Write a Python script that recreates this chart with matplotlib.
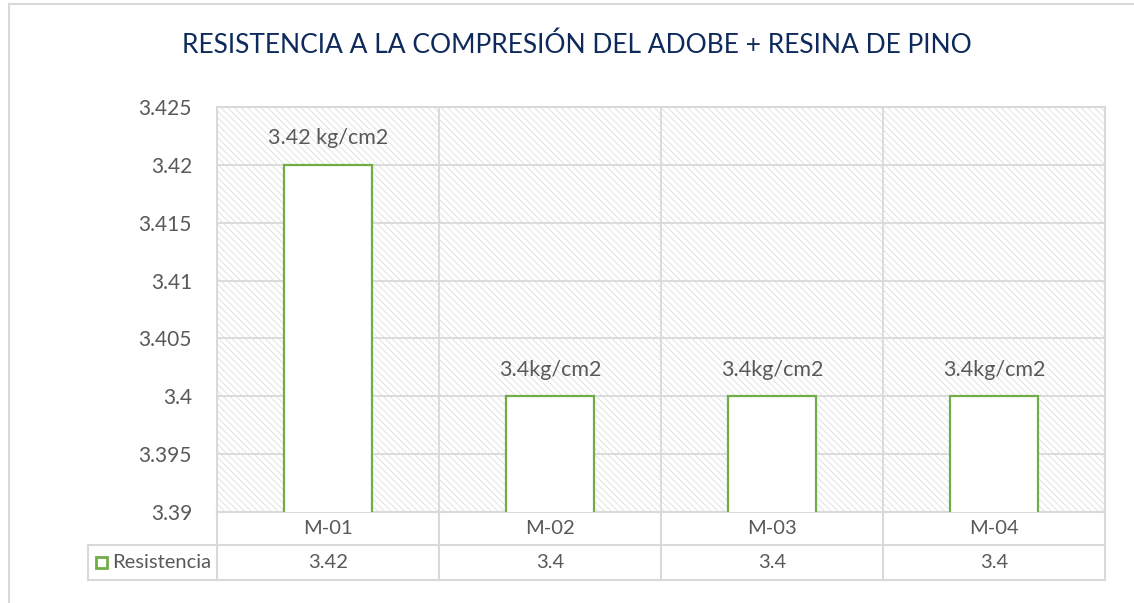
import matplotlib
matplotlib.use("Agg")
import matplotlib.pyplot as plt
from matplotlib.patches import Rectangle
from matplotlib.lines import Line2D
from matplotlib.transforms import blended_transform_factory

# Data
categories = ["M-01", "M-02", "M-03", "M-04"]
resistencia = [3.42, 3.4, 3.4, 3.4]
bar_labels = ["3.42 kg/cm2", "3.4kg/cm2", "3.4kg/cm2", "3.4kg/cm2"]
table_values = ["3.42", "3.4", "3.4", "3.4"]
series_name = "Resistencia"
yticks = [3.39, 3.395, 3.4, 3.405, 3.41, 3.415, 3.42, 3.425]
ytick_labels = ["3.39", "3.395", "3.4", "3.405", "3.41", "3.415", "3.42", "3.425"]
title = "RESISTENCIA A LA COMPRESIÓN DEL ADOBE + RESINA DE PINO"

FONT = "Lato"
TXT = "#595959"
GRID = "#D9D9D9"
GREEN = "#70AD47"
NAVY = "#0E2A5C"

plt.rcParams["font.family"] = [FONT, "DejaVu Sans"]
plt.rcParams["hatch.linewidth"] = 0.6

W, H = 1134, 603
fig = plt.figure(figsize=(W / 100, H / 100), dpi=100)
fig.patch.set_facecolor("white")

def fx(px):
    return px / W

def fy(py):
    return 1 - py / H

# outer chart frame (left and top edges visible)
fig.add_artist(Line2D([fx(9), fx(9)], [fy(4), 0], transform=fig.transFigure,
                      color=GRID, lw=1.5))
fig.add_artist(Line2D([fx(9), 1], [fy(4), fy(4)], transform=fig.transFigure,
                      color=GRID, lw=1.5))

ax = fig.add_axes([fx(217), fy(512), fx(1105) - fx(217), fy(107) - fy(512)])
n = len(categories)
xs = list(range(n))
ax.set_xlim(-0.5, n - 0.5)
ax.set_ylim(yticks[0], yticks[-1])
ax.patch.set_facecolor("white")

# hatched plot-area background
ax.add_patch(Rectangle((0, 0), 1, 1, transform=ax.transAxes, facecolor="white",
                       edgecolor="#DDDDDD", hatch="\\\\\\\\\\", lw=0, zorder=0))

# gridlines
for v in yticks:
    ax.axhline(v, color=GRID, lw=1.3, zorder=1)
for b in range(1, n):
    ax.axvline(b - 0.5, color=GRID, lw=1.3, zorder=1)

bars = ax.bar(xs, resistencia, width=0.4, color="white", edgecolor=GREEN,
              linewidth=1.6, zorder=3)

for x, v, lab in zip(xs, resistencia, bar_labels):
    ax.annotate(lab, (x, v), xytext=(0, 12), textcoords="offset points",
                ha="center", va="bottom", fontsize=15.5, color=TXT, zorder=4)

ax.set_yticks(yticks)
ax.set_yticklabels(ytick_labels)
ax.tick_params(axis="y", length=0, pad=18, labelsize=15, labelcolor=TXT)
ax.set_xticks([])
for s in ax.spines.values():
    s.set_color(GRID)
    s.set_linewidth(1.5)

fig.text(fx(577), fy(45), title, fontsize=19, color=NAVY, ha="center",
         va="center")

# data table under the plot
tr = blended_transform_factory(ax.transData, fig.transFigure)
y_top, y_mid, y_bot = fy(512), fy(545), fy(580)
x0, x1 = -0.5, n - 0.5
kw = dict(transform=tr, color=GRID, lw=1.5, clip_on=False)
fig.add_artist(Line2D([x0, x1], [y_mid, y_mid], **kw))
fig.add_artist(Line2D([x0, x1], [y_bot, y_bot], **kw))
for b in range(n + 1):
    fig.add_artist(Line2D([b - 0.5, b - 0.5], [y_top, y_bot], **kw))
for x, c, v in zip(xs, categories, table_values):
    fig.text(x, (y_top + y_mid) / 2, c, transform=tr, ha="center", va="center",
             fontsize=14.5, color=TXT)
    fig.text(x, (y_mid + y_bot) / 2, v, transform=tr, ha="center", va="center",
             fontsize=14.5, color=TXT)

# legend cell
fkw = dict(transform=fig.transFigure, color=GRID, lw=1.5)
fig.add_artist(Line2D([fx(88), fx(217)], [y_mid, y_mid], **fkw))
fig.add_artist(Line2D([fx(88), fx(217)], [y_bot, y_bot], **fkw))
fig.add_artist(Line2D([fx(88), fx(88)], [y_mid, y_bot], **fkw))
fig.add_artist(Rectangle((fx(96), fy(568)), fx(11), fy(557) - fy(568),
                         transform=fig.transFigure, facecolor="white",
                         edgecolor=GREEN, lw=2))
fig.text(fx(112), (y_mid + y_bot) / 2, series_name, ha="left", va="center",
         fontsize=14.5, color=TXT)

fig.savefig("out.png", dpi=100)
